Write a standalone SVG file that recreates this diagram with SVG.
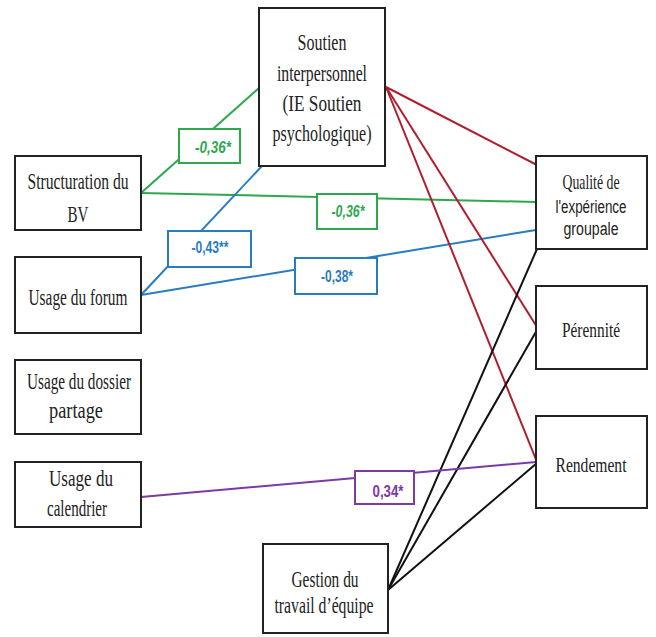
<svg xmlns="http://www.w3.org/2000/svg" width="656" height="637" viewBox="0 0 656 637">
  <style>
    .box { fill: #ffffff; stroke: #222222; stroke-width: 2; }
    .nt { font-family: "Liberation Serif", "Times New Roman", serif; font-size: 23px; fill: #222222; text-anchor: middle; }
    .nr { font-family: "Liberation Serif", "Times New Roman", serif; font-size: 22px; fill: #222222; text-anchor: middle; }
    .ns { font-family: "Liberation Sans", Arial, sans-serif; font-size: 18px; fill: #222222; text-anchor: middle; }
    .ln { fill: none; stroke-width: 2; }
    .lb { fill: #ffffff; stroke-width: 2; }
    .lt { font-family: "Liberation Sans", Arial, sans-serif; font-size: 16px; font-weight: bold; text-anchor: middle; }
    .green { stroke: #2ea84e; }
    .blue { stroke: #2a7cc0; }
    .red { stroke: #b01e2e; }
    .black { stroke: #111111; }
    .purple { stroke: #7b3aa6; }
  </style>
  <rect x="0" y="0" width="656" height="637" fill="#ffffff"/>

  <g id="connectors">
    <line class="ln green" x1="141" y1="193" x2="259" y2="88"/>
    <line class="ln green" x1="141" y1="193" x2="536" y2="202"/>
    <line class="ln blue" x1="141" y1="295" x2="262" y2="166"/>
    <line class="ln blue" x1="141" y1="295" x2="536" y2="230"/>
    <line class="ln red" x1="386" y1="87" x2="537" y2="165"/>
    <line class="ln red" x1="386" y1="87" x2="537" y2="327"/>
    <line class="ln red" x1="386" y1="87" x2="537" y2="462"/>
    <line class="ln black" x1="388" y1="590" x2="537" y2="249"/>
    <line class="ln black" x1="388" y1="590" x2="537" y2="330"/>
    <line class="ln black" x1="388" y1="590" x2="537" y2="463"/>
    <line class="ln purple" x1="141" y1="497" x2="536" y2="462"/>

    <g id="label-struct-soutien">
      <rect class="lb green" x="179" y="129" width="61" height="34"/>
      <text class="lt" x="213" y="153" fill="#2ea84e" font-style="italic" textLength="36" lengthAdjust="spacingAndGlyphs">-0,36*</text>
    </g>
    <g id="label-struct-qualite">
      <rect class="lb green" x="317" y="194" width="60" height="35"/>
      <text class="lt" x="348" y="217" fill="#2ea84e" font-style="italic" textLength="33" lengthAdjust="spacingAndGlyphs">-0,36*</text>
    </g>
    <g id="label-forum-soutien">
      <rect class="lb blue" x="168" y="231" width="83" height="36"/>
      <text class="lt" x="210" y="253" fill="#2a7cc0" textLength="37" lengthAdjust="spacingAndGlyphs">-0,43**</text>
    </g>
    <g id="label-forum-qualite">
      <rect class="lb blue" x="295" y="258" width="82" height="36"/>
      <text class="lt" x="337" y="282" fill="#2a7cc0" textLength="32" lengthAdjust="spacingAndGlyphs">-0,38*</text>
    </g>
    <g id="label-calendrier-rendement">
      <rect class="lb purple" x="355" y="471" width="59" height="33"/>
      <text class="lt" x="388" y="497" fill="#7b3aa6" textLength="31" lengthAdjust="spacingAndGlyphs">0,34*</text>
    </g>
  </g>

  <g id="soutien">
    <rect class="box" x="259" y="8" width="126" height="158"/>
    <text class="nt" x="322" y="50" textLength="49" lengthAdjust="spacingAndGlyphs">Soutien</text>
    <text class="nt" x="322" y="81" textLength="90" lengthAdjust="spacingAndGlyphs">interpersonnel</text>
    <text class="nt" x="322" y="111" textLength="79" lengthAdjust="spacingAndGlyphs">(IE Soutien</text>
    <text class="nt" x="322" y="141" textLength="99" lengthAdjust="spacingAndGlyphs">psychologique)</text>
  </g>

  <g id="structuration">
    <rect class="box" x="15" y="156" width="126" height="74"/>
    <text class="nt" x="78" y="189" textLength="101" lengthAdjust="spacingAndGlyphs">Structuration du</text>
    <text class="nt" x="78" y="222" textLength="21" lengthAdjust="spacingAndGlyphs">BV</text>
  </g>

  <g id="forum">
    <rect class="box" x="15" y="257" width="126" height="76"/>
    <text class="nt" x="78" y="305" textLength="99" lengthAdjust="spacingAndGlyphs">Usage du forum</text>
  </g>

  <g id="dossier">
    <rect class="box" x="15" y="360" width="126" height="74"/>
    <text class="nt" x="79" y="389" textLength="104" lengthAdjust="spacingAndGlyphs">Usage du dossier</text>
    <text class="nt" x="76" y="418" textLength="54" lengthAdjust="spacingAndGlyphs">partage</text>
  </g>

  <g id="calendrier">
    <rect class="box" x="15" y="462" width="126" height="65"/>
    <text class="nt" x="81" y="486" textLength="64" lengthAdjust="spacingAndGlyphs">Usage du</text>
    <text class="nt" x="77" y="516" textLength="60" lengthAdjust="spacingAndGlyphs">calendrier</text>
  </g>

  <g id="qualite">
    <rect class="box" x="536" y="156" width="111" height="93"/>
    <text class="nr" x="591" y="189" textLength="57" lengthAdjust="spacingAndGlyphs">Qualité de</text>
    <text class="ns" x="591" y="213" textLength="71" lengthAdjust="spacingAndGlyphs">l'expérience</text>
    <text class="ns" x="591" y="235" textLength="55" lengthAdjust="spacingAndGlyphs">groupale</text>
  </g>

  <g id="perennite">
    <rect class="box" x="536" y="286" width="111" height="83"/>
    <text class="nr" x="591" y="337" textLength="58" lengthAdjust="spacingAndGlyphs">Pérennité</text>
  </g>

  <g id="rendement">
    <rect class="box" x="536" y="416" width="111" height="92"/>
    <text class="nr" x="591" y="472" textLength="71" lengthAdjust="spacingAndGlyphs">Rendement</text>
  </g>

  <g id="gestion">
    <rect class="box" x="263" y="544" width="125" height="89"/>
    <text class="nt" x="325" y="587" textLength="67" lengthAdjust="spacingAndGlyphs">Gestion du</text>
    <text class="nt" x="324" y="613" textLength="99" lengthAdjust="spacingAndGlyphs">travail d’équipe</text>
  </g>
</svg>
